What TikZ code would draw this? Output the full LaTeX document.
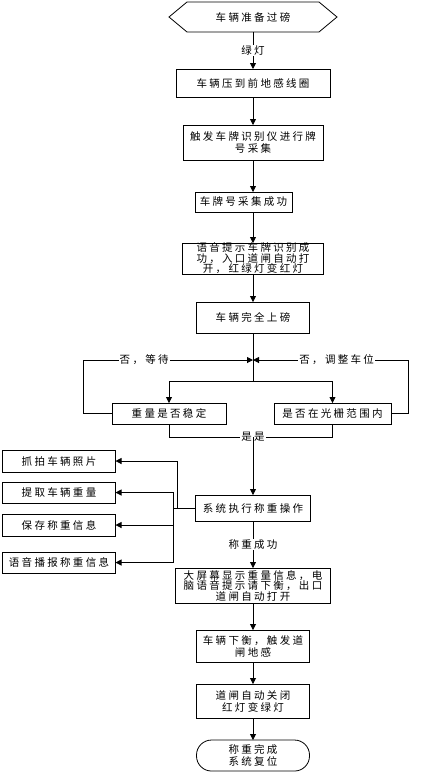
\documentclass[tikz,border=0pt]{standalone}
\usepackage{fontspec}
\setmainfont[LetterSpace=22]{Noto Sans CJK SC}
\usetikzlibrary{arrows.meta,positioning,calc}

\begin{document}
\begin{tikzpicture}[
    x=1pt,y=-1pt,
    node distance=30pt,
    proc/.style={rectangle,draw,line width=0.8pt,inner sep=0pt,outer sep=0pt,align=center,font=\fontsize{10.5}{12}\selectfont},
    term/.style={proc,rounded corners=15pt},
    lbl/.style={fill=white,inner sep=1pt,font=\fontsize{10.5}{12}\selectfont},
    conn/.style={line width=0.8pt},
    arrow/.style={conn,-{Triangle[length=6pt,width=6pt]}}
]
    \useasboundingbox (0,0) rectangle (426,774);

    % Start
    \node[minimum width=168pt,minimum height=30pt,inner sep=0pt,outer sep=0pt,font=\fontsize{10.5}{12}\selectfont] (start) at (253,17) {车辆准备过磅};
    \draw[conn] (start.west) -- ([xshift=18pt]start.north west) -- ([xshift=-18pt]start.north east) -- (start.east)
        -- ([xshift=-18pt]start.south east) -- ([xshift=18pt]start.south west) -- cycle;

    % Entry
    \node[proc,minimum width=154pt,minimum height=28pt,below=37pt of start] (press) {车辆压到前地感线圈};
    \node[proc,minimum width=140pt,minimum height=35pt,below=28pt of press] (trigger) {触发车牌识别仪进行牌\\号采集};
    \node[proc,minimum width=97pt,minimum height=20pt,below=32pt of trigger,xshift=-9.5pt] (plate) {车牌号采集成功};
    \node[proc,minimum width=141pt,minimum height=31pt,below=31pt of plate,xshift=9.5pt,font=\fontsize{10.5}{10.5}\selectfont] (voice) {语音提示车牌识别成\\功，入口道闸自动打\\开，红绿灯变红灯};
    \node[proc,minimum width=113pt,minimum height=31pt,below=28pt of voice] (onscale) {车辆完全上磅};
    \draw[arrow] (start) -- (press) node[lbl,midway] {绿灯};
    \draw[arrow] (press) -- (trigger);
    \draw[arrow] (trigger.south) -- (trigger.south |- plate.north);
    \draw[arrow] (trigger.south |- plate.south) -- (voice.north);
    \draw[arrow] (voice) -- (onscale);

    % Checks
    \coordinate[below=27pt of onscale] (merge);
    \coordinate[below=48pt of onscale] (split);
    \node[proc,minimum width=114pt,minimum height=21pt,below=70pt of onscale,xshift=-84pt] (stable) {重量是否稳定};
    \node[proc,minimum width=117pt,minimum height=21pt,below=70pt of onscale,xshift=79.5pt] (grating) {是否在光栅范围内};
    \coordinate[below=13pt of stable,xshift=84pt] (join);
    \draw[conn] (onscale) -- (split);
    \draw[arrow] (split) -| (stable);
    \draw[arrow] (split) -| (grating);
    \draw[arrow] (stable.west) -- ++(-29,0) |- (merge) node[lbl,pos=0.68] {否，等待};
    \draw[arrow] (grating.east) -- ++(17,0) |- (merge) node[lbl,pos=0.73] {否，调整车位};
    \draw[conn] (stable) |- (join) node[lbl] {是是} -| (grating);

    % Weighing
    \node[proc,minimum width=115pt,minimum height=26pt,below=71pt of stable,xshift=84pt] (weigh) {系统执行称重操作};
    \draw[arrow] (join) -- (weigh);
    \node[proc,minimum width=113pt,minimum height=22pt,left=80pt of weigh,yshift=47pt] (photo) {抓拍车辆照片};
    \node[proc,minimum width=113pt,minimum height=21pt,left=80pt of weigh,yshift=15.5pt] (weight) {提取车辆重量};
    \node[proc,minimum width=113pt,minimum height=22pt,left=80pt of weigh,yshift=-17pt] (save) {保存称重信息};
    \node[proc,minimum width=113pt,minimum height=21pt,left=80pt of weigh,yshift=-54.5pt] (announce) {语音播报称重信息};
    \coordinate[left=22pt of weigh] (hub);
    \coordinate[left=18pt of weigh] (hubtop);
    \draw[conn] (weigh) -- (hub);
    \draw[arrow] (hubtop) |- (photo);
    \draw[arrow] (hub) |- (weight);
    \draw[arrow] (hub) |- (save);
    \draw[arrow] (hub) |- (announce);

    % Exit
    \node[proc,minimum width=155pt,minimum height=35pt,below=47pt of weigh,font=\fontsize{10.5}{10.5}\selectfont] (display) {大屏幕显示重量信息，电\\脑语音提示请下衡，出口\\道闸自动打开};
    \node[proc,minimum width=113pt,minimum height=32pt,below=27pt of display] (leave) {车辆下衡，触发道\\闸地感};
    \node[proc,minimum width=113pt,minimum height=34pt,below=22pt of leave] (close) {道闸自动关闭\\红灯变绿灯};
    \node[term,minimum width=113pt,minimum height=31pt,below=22pt of close] (reset) {称重完成\\系统复位};
    \draw[arrow] (weigh) -- (display) node[lbl,midway] {称重成功};
    \draw[arrow] (display) -- (leave);
    \draw[arrow] (leave) -- (close);
    \draw[arrow] (close) -- (reset);
\end{tikzpicture}
\end{document}
